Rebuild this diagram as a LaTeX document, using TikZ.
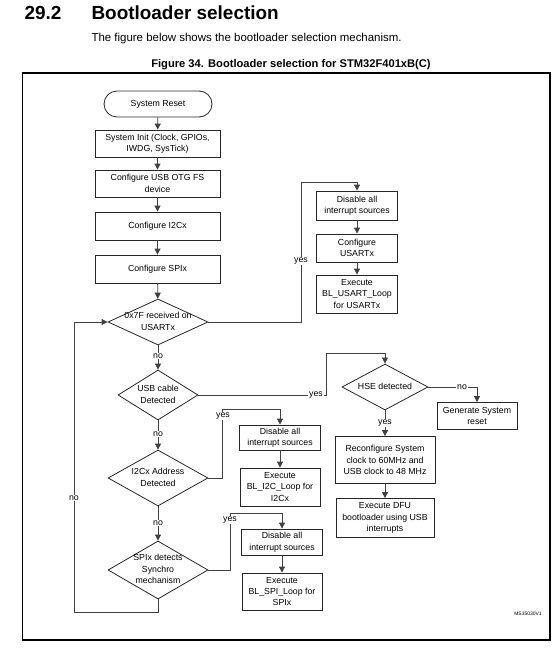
\documentclass[tikz,border=0pt]{standalone}
\usepackage{fontspec}
\setmainfont{Liberation Sans}
\usetikzlibrary{shapes, arrows.meta, positioning, calc}
\definecolor{cLine}{RGB}{64,64,64}
\newcommand{\dtxt}[1]{\makebox[0pt]{\begin{tabular}{@{}c@{}}#1\end{tabular}}}

\begin{document}
\begin{tikzpicture}[x=1bp, y=-1bp,
            proc/.style={rectangle, draw=black!85, fill=white, line width=0.8bp, align=center, inner sep=1bp, font=\fontsize{8.8}{11.5}\selectfont},
            term/.style={proc, rounded corners=13bp},
            dec/.style={diamond, draw=black!85, line width=0.8bp, inner sep=0pt, font=\fontsize{8.8}{11.5}\selectfont},
            sz/.style 2 args={minimum width=#1bp, minimum height=#2bp},
            ed/.style={draw=cLine, line width=0.8bp, -{Triangle[length=6bp,width=6bp]}},
            lbl/.style={fill=white, inner sep=0.8bp, font=\fontsize{8.8}{10}\selectfont}]
            \useasboundingbox (0,0) rectangle (557,655);
            % heading
            \node[anchor=base west, font=\fontsize{19}{22}\selectfont\bfseries] (secnum) at (21,20) {29.2};
            \node[anchor=base west, font=\fontsize{19}{22}\selectfont\bfseries] (sectitle) at (88,20) {Bootloader selection};
            \node[anchor=base west, font=\fontsize{11.5}{14}\selectfont] (intro) at (88,42) {The figure below shows the bootloader selection mechanism.};
            \node[anchor=base, font=\fontsize{11.2}{14}\selectfont\bfseries] (caption) at (291,68) {Figure 34. Bootloader selection for STM32F401xB(C)};
            \draw[line width=1.2bp] (22.5,73) rectangle (550,640);
            % main column
            \node[term, sz={108}{26}] (reset) at (158,104) {System Reset};
            \node[proc, sz={125}{27}] (init) at (157.5,143.5) {System Init (Clock, GPIOs,\\IWDG, SysTick)};
            \node[proc, sz={125}{27}] (usb) at (157.5,183.5) {Configure USB OTG FS\\device};
            \node[proc, sz={125}{28}] (i2c) at (157.5,226) {Configure I2Cx};
            \node[proc, sz={125}{28}] (spi) at (157.5,269) {Configure SPIx};
            \node[dec, sz={100}{46}] (usart) at (158,322) {\dtxt{0x7F received on\\USARTx}};
            \node[dec, sz={80}{50}] (cable) at (158,395) {\dtxt{USB cable\\Detected}};
            \node[dec, sz={100}{56}] (addr) at (158,478) {\dtxt{I2Cx Address\\Detected}};
            \node[dec, sz={100}{58}] (sync) at (158,570) {\dtxt{SPIx detects\\Synchro\\mechanism}};
            % usart branch
            \node[proc, sz={81}{29}] (usDis) at (357,205.5) {Disable all\\interrupt sources};
            \node[proc, sz={81}{28}] (usCfg) at (357,248) {Configure\\USARTx};
            \node[proc, sz={81}{38}] (usExe) at (357,294) {Execute\\BL\_USART\_Loop\\for USARTx};
            % usb branch
            \node[dec, sz={86}{46}] (hse) at (385,387) {\dtxt{HSE detected}};
            \node[proc, sz={80}{27}] (genRst) at (477,416) {Generate System\\reset};
            \node[proc, sz={100}{47}] (reconf) at (385,460) {Reconfigure System\\clock to 60MHz and\\USB clock to 48 MHz};
            \node[proc, sz={98}{39}] (dfu) at (385,518) {Execute DFU\\bootloader using USB\\interrupts};
            % i2c and spi branches
            \node[proc, sz={81}{25}] (i2Dis) at (280,437.5) {Disable all\\interrupt sources};
            \node[proc, sz={80}{38}] (i2Exe) at (280,487) {Execute\\BL\_I2C\_Loop for\\I2Cx};
            \node[proc, sz={81}{26}] (spDis) at (282,542) {Disable all\\interrupt sources};
            \node[proc, sz={80}{37}] (spExe) at (282,591.5) {Execute\\BL\_SPI\_Loop for\\SPIx};
            \node[font=\fontsize{5}{6}\selectfont] (docref) at (528,614) {MS35030V1};
            % corners of the elbow connectors
            \coordinate (cUs) at (301,182);
            \coordinate (cHse) at (326,353);
            \coordinate (cI2) at (222,409);
            \coordinate (cSp) at (230,513);
            \coordinate (cLoop) at (74,612);
            \draw[ed] (reset)--(init);
            \draw[ed] (init)--(usb);
            \draw[ed] (usb)--(i2c);
            \draw[ed] (i2c)--(spi);
            \draw[ed] (spi)--(usart);
            \draw[ed] (usart)--(cable);
            \draw[ed] (cable)--(addr);
            \draw[ed] (addr)--(sync);
            \draw[ed] (sync.south) |- (cLoop) |- (usart.west);
            \draw[ed] (usart.east) -| (cUs) -| (usDis.north);
            \draw[ed] (usDis)--(usCfg);
            \draw[ed] (usCfg)--(usExe);
            \draw[ed] (cable.east) -| (cHse) -| (hse.north);
            \draw[ed] (hse.east) -| (genRst.north);
            \draw[ed] (hse)--(reconf);
            \draw[ed] (reconf)--(dfu);
            \draw[ed] (addr.east) -| (cI2) -| (i2Dis.north);
            \draw[ed] (i2Dis)--(i2Exe);
            \draw[ed] (sync.east) -| (cSp) -| (spDis.north);
            \draw[ed] (spDis)--(spExe);
            % yes / no labels
            \node[lbl] (no1) at (158,356) {no};
            \node[lbl] (no2) at (158,434) {no};
            \node[lbl] (no3) at (158,523) {no};
            \node[lbl] (no4) at (74,498) {no};
            \node[lbl] (no5) at (462,387) {no};
            \node[lbl] (yes1) at (301,261) {yes};
            \node[lbl] (yes2) at (316,395) {yes};
            \node[lbl] (yes3) at (385,423) {yes};
            \node[lbl] (yes4) at (223,416) {yes};
            \node[lbl] (yes5) at (230,520) {yes};
        \end{tikzpicture}
\end{document}
